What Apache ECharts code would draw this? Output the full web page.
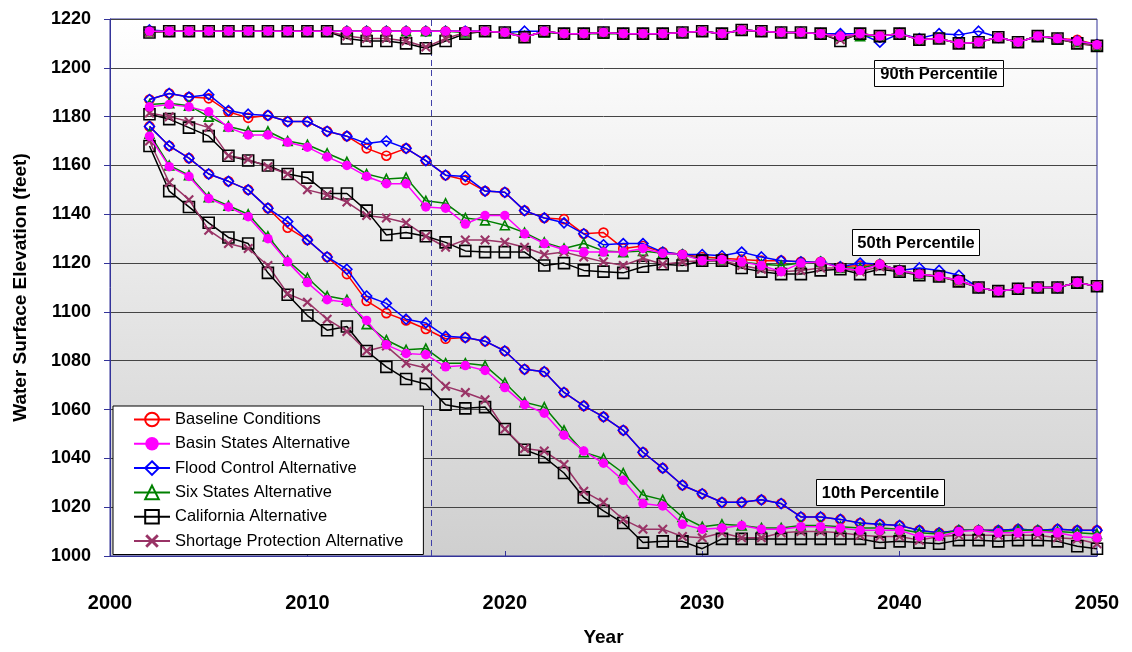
<!DOCTYPE html>
<html>
<head>
<meta charset="utf-8">
<script src="https://cdn.jsdelivr.net/npm/echarts@6/dist/echarts.min.js"></script>
<style>
  html, body { margin: 0; padding: 0; background: #fff; }
  #container { width: 1132px; height: 652px; }
</style>
</head>
<body>
<div id="container"></div>
<script>
/* 水位百分位 */
var years = [2002,2003,2004,2005,2006,2007,2008,2009,2010,2011,2012,2013,2014,2015,2016,2017,2018,2019,2020,2021,2022,2023,2024,2025,2026,
             2027,2028,2029,2030,2031,2032,2033,2034,2035,2036,2037,2038,2039,2040,2041,2042,2043,2044,2045,2046,2047,2048,2049,2050];
var seriesNames = ['Baseline Conditions','Basin States Alternative','Flood Control Alternative','Six States Alternative','California Alternative','Shortage Protection Alternative'];
var yTicks = [1000, 1220, 20];
var xTicks = [2000, 2050, 10];

// 90th percentile
var baseline90 = [1215,1215,1215,1215,1215,1215,1215,1215,1215,1215,1215,1215,1215,1215,1215,1215,1215,1215,1214.5,1212.5,1215,1214,1214,1214.5,1214,
                  1214,1214,1214.5,1215,1214,1215.5,1215,1214.5,1214.5,1214,1213,1214,1213,1214,1211.5,1212,1210,1210.5,1212.5,1210.5,1213,1212,1211.5,1209.5];
var basin90 = [1215,1215,1215,1215,1215,1215,1215,1215,1215,1215,1215,1215,1215,1215,1215,1215,1215,1215,1214.5,1212.5,1215,1214,1214,1214.5,1214,
               1214,1214,1214.5,1215,1214,1215.5,1215,1214.5,1214.5,1214,1213,1214,1213,1214,1211.5,1212,1210,1210.5,1212.5,1210.5,1213,1212,1211,1209.5];
var flood90 = [1215.5,1215,1215,1215,1215,1215,1215,1215,1215,1215,1215,1215,1215,1215,1215,1215,1215,1215,1214.5,1215,1215,1214,1214,1214.5,1214,
               1214,1214,1214.5,1215,1214,1215.5,1215,1214.5,1214.5,1214,1214,1214,1210.5,1214,1212,1214,1213.5,1215,1212.5,1210.5,1213,1212,1211,1209.5];
var six90 = [1215,1215,1215,1215,1215,1215,1215,1215,1215,1215,1215,1215,1215,1215,1215,1215,1214.5,1215,1214.5,1213,1214.5,1214,1214,1214,1214,
             1214,1214,1214.5,1215,1214,1215.5,1215,1214.5,1214.5,1214,1213,1213,1213,1214,1211.5,1212,1210,1210.5,1212.5,1210.5,1213,1211.5,1210.5,1209];
var california90 = [1214.5,1215,1215,1215,1215,1215,1215,1215,1215,1215,1212,1211,1211,1210,1208,1211,1214,1215,1214.5,1212.5,1215,1214,1214,1214.5,1214,
                    1214,1214,1214.5,1215,1214,1215.5,1215,1214.5,1214.5,1214,1211,1214,1213,1214,1211.5,1212,1210,1210.5,1212.5,1210.5,1213,1212,1210,1209];
var shortage90 = [1214.5,1215,1215,1215,1215,1215,1215,1215,1215,1215,1213,1212,1212,1211,1208.5,1212,1214.5,1215,1214.5,1212.5,1215,1214,1214,1214.5,1214,
                  1214,1214,1214.5,1215,1214,1215.5,1215,1214.5,1214.5,1214,1211.5,1214,1213,1214,1211.5,1212,1210,1210.5,1212.5,1210.5,1213,1212,1210,1209];

// 50th percentile
var baseline50 = [1187,1189.5,1188,1187.5,1182,1179.5,1180.5,1178,1178,1174,1172,1167,1164,1167,1162,1156,1154,1149.5,1149,1141.5,1138.5,1138,1132,1132.5,1126,
                  1127,1124.5,1123.5,1122.5,1122,1121.5,1121,1121,1120.5,1120.5,1118.5,1119,1119.5,1117,1115.5,1114.5,1113,1110,1108.5,1109.5,1110,1110,1112,1110.5];
var basin50 = [1184,1185,1184,1182,1175.5,1172.5,1172.5,1169.5,1167.5,1163.5,1160,1155.5,1152.5,1152.5,1143,1142.5,1136,1139.5,1139.5,1132,1128,1125.5,1124.5,1124.5,1124.5,
               1126,1124,1123.5,1121,1121.5,1120.5,1119,1116.5,1120,1120.5,1118,1117,1119.5,1117,1115.5,1114.5,1113,1110,1108.5,1109.5,1110,1110,1112,1110.5];
var flood50 = [1187,1189.5,1188,1189,1182.5,1181,1180.5,1178,1178,1174,1172,1169,1170,1167,1162,1156,1155.5,1149.5,1149,1141.5,1138.5,1136.5,1132,1127.5,1128,
               1128,1124.5,1123.5,1123.5,1123,1124.5,1122.5,1121,1120.5,1120.5,1118.5,1120,1119.5,1117,1118,1117,1115,1110,1108.5,1109.5,1110,1110,1112,1110.5];
var six50 = [1185,1185.5,1184.5,1180,1176,1174,1174,1170,1168.5,1165,1161.5,1156.5,1154.5,1155,1145.5,1144.5,1138.5,1137.5,1135.5,1132.5,1128.5,1126,1128,1125,1124.5,
             1125,1124,1123.5,1121.5,1121.5,1120.5,1119.5,1119,1120,1120.5,1118,1118,1119.5,1117,1115.5,1114.5,1113,1110,1108.5,1109.5,1110,1110,1112,1110.5];
var california50 = [1181,1179,1175.5,1172,1164,1162,1160,1156.5,1155,1148.5,1148.5,1141.5,1131.5,1132.5,1131,1128.5,1125,1124.5,1124.5,1124.5,1119,1120,1117,1116.5,1116,
                    1118.5,1119.5,1119,1121,1121,1118,1116.5,1115.5,1115.5,1117,1117.5,1115.5,1117.5,1116.5,1115,1114.5,1112.5,1110,1108.5,1109.5,1110,1110,1112,1110.5];
var shortage50 = [1181.5,1180,1178,1175.5,1164,1162.5,1159.5,1156.5,1150,1148,1145,1139.5,1138.5,1136.5,1131,1126.5,1129.5,1129.5,1128.5,1126.5,1123.5,1124.5,1122.5,1120.5,1119,
                  1122,1119.5,1120.5,1121,1121,1119,1117.5,1116.5,1117,1118,1118,1116.5,1118.5,1116.5,1115.5,1114.5,1112.5,1110,1108.5,1109.5,1110,1110,1112,1110.5];

// 10th percentile
var baseline10 = [1176,1168,1163,1156.5,1153.5,1150,1142.5,1134.5,1129.5,1122.5,1115.5,1104.5,1099.5,1096.5,1093,1089,1089.5,1088,1084,1076.5,1075.5,1067,1061.5,1057,1051.5,
                  1042.5,1036,1029,1025.5,1022,1022,1023,1021.5,1016,1016,1015,1013.5,1013,1012.5,1010.5,1009.5,1010.5,1010.5,1010.5,1011,1010.5,1011,1010.5,1010.5];
var basin10 = [1172,1159.5,1155.5,1146.5,1143,1139,1130,1120.5,1112,1105,1104,1096.5,1086.5,1083,1082.5,1077.5,1078,1076,1069,1062,1058.5,1049.5,1043,1038,1031,
               1021.5,1020.5,1013,1011,1011.5,1012.5,1011,1011,1012,1012,1011.5,1010.5,1010.5,1010.5,1008,1008,1010,1010.5,1009.5,1009.5,1010,1009.5,1008,1007.5];
var flood10 = [1176,1168,1163,1156.5,1153.5,1150,1142.5,1137,1129.5,1122.5,1117.5,1106.5,1103.5,1097,1095.5,1090,1089.5,1088,1084,1076.5,1075.5,1067,1061.5,1057,1051.5,
               1042.5,1036,1029,1025.5,1022,1022,1023,1021.5,1016,1016,1015,1013.5,1013,1012.5,1010.5,1009.5,1010.5,1010.5,1010.5,1011,1010.5,1011,1010.5,1010.5];
var six10 = [1173,1160,1156,1147,1143.5,1140,1131,1121,1114,1106.5,1105,1095,1088.5,1084.5,1085,1079,1079,1078,1071,1063,1061,1051.5,1042.5,1040,1034,
             1025,1023,1016,1012,1013,1012.5,1011.5,1011.5,1012.5,1012.5,1012,1011.5,1011.5,1011,1009.5,1009,1010.5,1010.5,1010,1010.5,1010.5,1010,1009.5,1009];
var california10 = [1168,1149.5,1143,1136.5,1130.5,1128,1116,1107,1098.5,1092.5,1094,1084,1077.5,1072.5,1070.5,1062,1060.5,1061,1052,1043.5,1040.5,1034,1024,1018.5,1013.5,
                    1005.5,1006,1006,1003,1007,1007,1007,1007,1007,1007,1007,1007,1005.5,1006,1005.5,1005,1006.5,1006.5,1006,1006.5,1006.5,1006,1004,1003];
var shortage10 = [1170,1153,1146,1133.5,1128,1126,1119,1107.5,1104,1097,1092,1084,1086,1079,1077,1069.5,1067,1064,1052,1044,1043,1037.5,1026.5,1022,1015,
                  1011,1011,1008,1007.5,1009.5,1007.5,1007.5,1009.5,1010,1010,1009.5,1008.5,1008,1008,1006.5,1008,1008.5,1008.5,1008.5,1008.5,1008.5,1007.5,1007,1005];

var dataSets = [
    [baseline90, baseline50, baseline10],
    [basin90, basin50, basin10],
    [flood90, flood50, flood10],
    [six90, six50, six10],
    [california90, california50, california10],
    [shortage90, shortage50, shortage10]
];
var colors = ['#FF0000', '#FF00FF', '#0000FF', '#008000', '#000000', '#993366'];
var xMark = 'path://M1.5,0L5,3.5L8.5,0L10,1.5L6.5,5L10,8.5L8.5,10L5,6.5L1.5,10L0,8.5L3.5,5L0,1.5Z';
var symbols = ['circle', 'circle', 'diamond', 'triangle', 'rect', xMark];
var hollow = [true, false, true, true, true, false];
var symbolSizes = [9, 9.5, 10, 9, 11, 10];
var zLevels = [2, 6, 3, 4, 5, 5];

var dom = document.getElementById("container");
var myChart = echarts.init(dom);
var option = null;

function toPairs(arr) {
    var out = [];
    for (var i = 0; i < years.length; i++) {
        out.push([years[i], arr[i]]);
    }
    return out;
}

var series = [];
for (var s = 0; s < seriesNames.length; s++) {
    for (var p = 0; p < 3; p++) {
        var item = {
            name: seriesNames[s],
            type: 'line',
            z: zLevels[s],
            data: toPairs(dataSets[s][p]),
            symbol: symbols[s],
            symbolSize: symbolSizes[s],
            showAllSymbol: true,
            lineStyle: { color: colors[s], width: 1.5 },
            itemStyle: hollow[s]
                ? { color: 'rgba(255,255,255,0)', borderColor: colors[s], borderWidth: 1.6 }
                : { color: colors[s], borderWidth: 0 },
            emphasis: { disabled: true },
            animation: false
        };
        if (s === 0 && p === 0) {
            item.markLine = {
                silent: true,
                symbol: 'none',
                label: { show: false },
                lineStyle: { color: '#4040a8', type: [6, 4], width: 1 },
                data: [{ xAxis: 2016.25 }]
            };
        }
        series.push(item);
    }
}

function labelBox(text, x, y, w, h) {
    return {
        type: 'group',
        left: x,
        top: y,
        z: 20,
        children: [
            { type: 'rect', shape: { x: 0, y: 0, width: w, height: h },
              style: { fill: '#fff', stroke: '#000', lineWidth: 1 } },
            { type: 'text', x: w / 2, y: h / 2 + 1,
              style: { text: text, fill: '#000', font: 'bold 16.5px Arial', textAlign: 'center', textVerticalAlign: 'middle' } }
        ]
    };
}

option = {
    backgroundColor: '#fff',
    textStyle: { fontFamily: 'Arial' },
    grid: {
        left: 110,
        right: 35,
        top: 19,
        bottom: 94,
        show: true,
        borderColor: '#333399',
        borderWidth: 1,
        backgroundColor: new echarts.graphic.LinearGradient(0, 0, 0, 1, [
            { offset: 0, color: '#ffffff' },
            { offset: 1, color: '#cfcfcf' }
        ])
    },
    legend: {
        orient: 'vertical',
        left: 113,
        top: 406,
        backgroundColor: '#fff',
        borderColor: '#000',
        borderWidth: 1,
        padding: [5, 20, 5, 20],
        itemGap: 7.3,
        itemWidth: 36,
        itemHeight: 17,
        textStyle: { fontSize: 16.5, color: '#000', fontFamily: 'Arial' },
        data: seriesNames
    },
    xAxis: {
        type: 'value',
        min: xTicks[0],
        max: xTicks[1],
        interval: xTicks[2],
        name: 'Year',
        nameLocation: 'middle',
        nameGap: 72,
        nameTextStyle: { fontSize: 19, fontWeight: 'bold', color: '#000' },
        axisLine: { onZero: false, lineStyle: { color: '#333399', width: 1 } },
        axisTick: { show: true, inside: true, length: 5, lineStyle: { color: '#333399' } },
        axisLabel: { fontSize: 20, fontWeight: 'bold', color: '#000', margin: 37,
                     formatter: function (v) { return String(v); } },
        splitLine: { show: false }
    },
    yAxis: {
        type: 'value',
        min: yTicks[0],
        max: yTicks[1],
        interval: yTicks[2],
        name: 'Water Surface Elevation (feet)',
        nameLocation: 'middle',
        nameGap: 80,
        nameTextStyle: { fontSize: 19, fontWeight: 'bold', color: '#000' },
        axisLine: { show: true, lineStyle: { color: '#333399', width: 1 } },
        axisTick: { show: true, length: 6, lineStyle: { color: '#333399' } },
        axisLabel: { fontSize: 18, fontWeight: 'bold', color: '#000', margin: 19,
                     formatter: function (v) { return String(v); } },
        splitLine: { show: true, lineStyle: { color: '#444', width: 1 } }
    },
    graphic: [
        labelBox('90th Percentile', 874, 60, 129, 26),
        labelBox('50th Percentile', 852, 229, 127, 26),
        labelBox('10th Percentile', 816, 479, 128, 26)
    ],
    series: series
};

if (option && typeof option === "object") {
    myChart.setOption(option, true);
}
</script>
</body>
</html>
